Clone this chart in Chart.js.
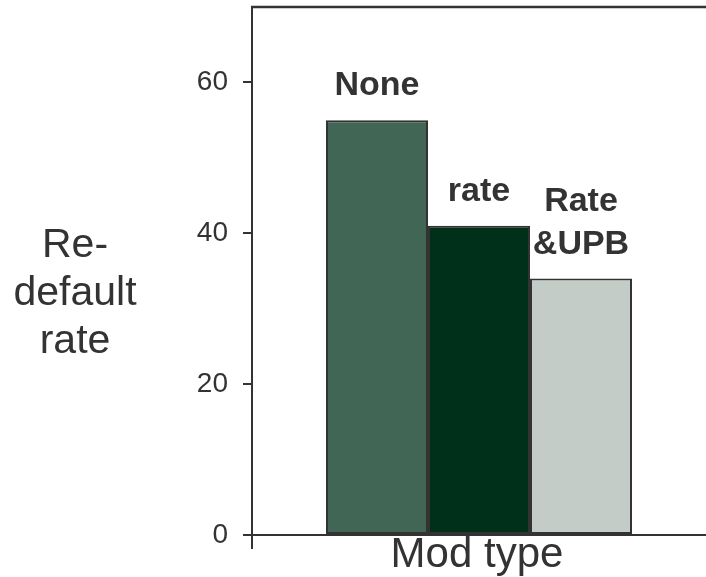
<!DOCTYPE html>
<html>
<head>
<meta charset="utf-8">
<title>Re-default rate by Mod type</title>
<script src="https://cdn.jsdelivr.net/npm/chart.js@4/dist/chart.umd.min.js"></script>
<style>
  html, body { margin: 0; padding: 0; background: #ffffff; }
  #wrap { width: 706px; height: 577px; }
</style>
</head>
<body>
<div id="wrap"><canvas id="chart" width="706" height="577"></canvas></div>
<script>
// Modification types and their re-default rates (%)
const modTypes = ['None', 'rate', 'Rate &UPB'];
const barLabels = [['None'], ['rate'], ['Rate', '&UPB']];
const redefaultRates = [55, 41, 34];
const barColors = ['#426655', '#00301a', '#c3ccc7'];
const yTicks = [0, 20, 40, 60];
const yTitleLines = ['Re-', 'default', 'rate'];
const xTitle = 'Mod type';

const INK = '#333333';
const FONT = '"Liberation Sans", Arial, sans-serif';

const datasets = modTypes.map((name, i) => ({
  label: name,
  data: [redefaultRates[i]],
  backgroundColor: barColors[i],
  borderColor: INK,
  borderWidth: 2,
  borderSkipped: false
}));

// Bold names above each bar, plus horizontal axis titles and the top frame line
const annotate = {
  id: 'annotate',
  afterDraw(chart) {
    const ctx = chart.ctx;
    const area = chart.chartArea;
    ctx.save();

    // top frame line
    ctx.strokeStyle = INK;
    ctx.lineWidth = 2.5;
    ctx.beginPath();
    ctx.moveTo(area.left - 1, area.top);
    ctx.lineTo(chart.width, area.top);
    ctx.stroke();

    // labels above bars
    ctx.fillStyle = INK;
    ctx.textAlign = 'center';
    ctx.textBaseline = 'alphabetic';
    ctx.font = 'bold 34px ' + FONT;
    chart.data.datasets.forEach((ds, i) => {
      const bar = chart.getDatasetMeta(i).data[0];
      const lines = barLabels[i];
      const lh = 43;
      lines.forEach((t, k) => {
        const y = bar.y - 25 - (lines.length - 1 - k) * lh;
        ctx.fillText(t, bar.x, y);
      });
    });

    // y axis title, horizontal, three lines
    ctx.font = '41px ' + FONT;
    yTitleLines.forEach((t, k) => {
      ctx.fillText(t, 75, 257 + k * 48);
    });

    // x axis title
    ctx.font = '42px ' + FONT;
    ctx.fillText(xTitle, (area.left + area.right) / 2 - 2, 567);
    ctx.restore();
  }
};

new Chart(document.getElementById('chart'), {
  type: 'bar',
  data: { labels: [xTitle], datasets },
  plugins: [annotate],
  options: {
    responsive: false,
    animation: false,
    devicePixelRatio: 1,
    layout: { padding: { top: 7, left: 0, right: 0, bottom: 0 } },
    datasets: { bar: { categoryPercentage: 0.674, barPercentage: 1 } },
    plugins: { legend: { display: false }, tooltip: { enabled: false } },
    scales: {
      x: {
        grid: {
          drawOnChartArea: false, drawTicks: true, tickLength: 14, lineWidth: 2, offset: true,
          // only the left edge tick drops below the axis
          color: (c) => (c.index === 0 ? INK : 'rgba(0,0,0,0)')
        },
        border: { display: true, color: INK, width: 2 },
        ticks: { display: false },
        afterFit(scale) { scale.height = 42; scale.paddingLeft = 0; scale.paddingRight = 0; }
      },
      y: {
        min: 0,
        max: 70,
        grid: { drawOnChartArea: false, drawTicks: true, tickLength: 9, color: INK, lineWidth: 2 },
        border: { display: true, color: INK, width: 2 },
        afterBuildTicks(scale) { scale.ticks = yTicks.map(v => ({ value: v })); },
        ticks: {
          color: INK,
          padding: 15,
          font: { family: FONT, size: 28 }
        },
        afterFit(scale) { scale.width = 252; scale.paddingTop = 0; scale.paddingBottom = 0; }
      }
    }
  }
});
</script>
</body>
</html>
